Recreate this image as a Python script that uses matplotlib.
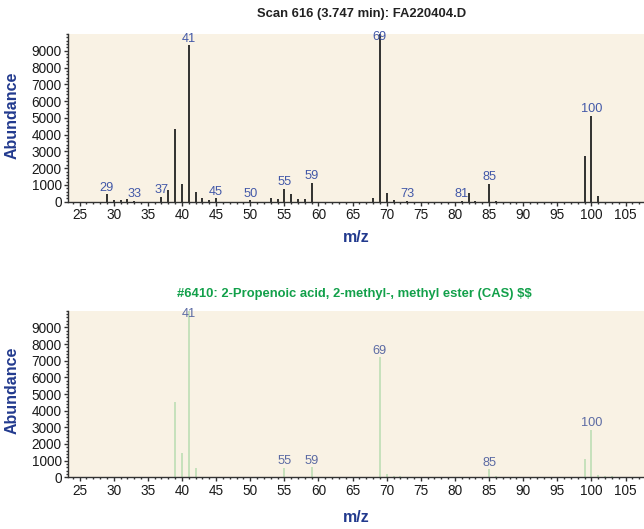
import matplotlib
matplotlib.use("Agg")
import matplotlib.pyplot as plt
from matplotlib.ticker import MultipleLocator

plt.rcParams["font.family"] = ["Liberation Sans", "DejaVu Sans"]

# Measured scan spectrum (m/z, abundance)
scan_mz = [29, 30, 31, 32, 33, 37, 38, 39, 40, 41, 42, 43, 44, 45, 50,
           53, 54, 55, 56, 57, 58, 59, 68, 69, 70, 71, 73, 81, 82, 83,
           85, 86, 99, 100, 101]
scan_abund = [440, 100, 120, 140, 60, 300, 700, 4360, 1070, 9320, 560, 210, 100, 210, 80,
              250, 160, 770, 460, 150, 150, 1120, 220, 9990, 530, 110, 70, 60, 520, 70,
              1070, 60, 2720, 5140, 340]
scan_labels = [29, 33, 37, 41, 45, 50, 55, 59, 69, 73, 81, 85, 100]

# Library reference spectrum
lib_mz = [39, 40, 41, 42, 55, 59, 69, 70, 71, 72, 85, 86, 99, 100, 101, 102, 103]
lib_abund = [4500, 1460, 10000, 540, 580, 600, 7200, 200, 50, 50, 480, 50, 1100, 2860, 140, 50, 50]
lib_labels = [41, 55, 59, 69, 85, 100]

scan_title = "Scan 616 (3.747 min): FA220404.D"
lib_title = "#6410: 2-Propenoic acid, 2-methyl-, methyl ester (CAS) \\$\\$"

W, H = 644, 529
fig = plt.figure(figsize=(W / 100, H / 100), dpi=100)

bg = "#f9f2e4"
axis_blue = "#223a8e"


def setup(ax, mz, ab, labels, bar_color, label_color, lw):
    ax.set_facecolor(bg)
    ax.vlines(mz, 0, ab, colors=bar_color, lw=lw, zorder=2)
    ax.set_xlim(23.3, 107.7)
    ax.set_ylim(0, 10000)
    for s in ("top", "right"):
        ax.spines[s].set_visible(False)
    for s in ("left", "bottom"):
        ax.spines[s].set_color("#333333")
        ax.spines[s].set_linewidth(1.0)
    ax.xaxis.set_minor_locator(MultipleLocator(1))
    ax.yaxis.set_minor_locator(MultipleLocator(200))
    ax.set_xticks(range(25, 106, 5))
    ax.set_yticks(range(0, 9001, 1000))
    ax.tick_params(axis="both", which="major", direction="out", length=3,
                   width=1.0, color="#333333", labelsize=9.8, labelcolor="#1a1a1a", pad=1.5)
    ax.tick_params(axis="both", which="minor", direction="out", length=1.6,
                   width=1.0, color="#333333")
    lookup = dict(zip(mz, ab))
    for m in labels:
        y = min(lookup[m] + 40, 9450)
        ax.text(m, y, str(m), ha="center", va="bottom", fontsize=9.2,
                color=label_color, zorder=3)


ax1 = fig.add_axes([68 / W, (H - 201.7) / H, 576 / W, 167.7 / H])
setup(ax1, scan_mz, scan_abund, scan_labels, "#222222", "#4258a8", 1.3)

ax2 = fig.add_axes([68 / W, (H - 477.3) / H, 576 / W, 166.6 / H])
setup(ax2, lib_mz, lib_abund, lib_labels, "#b8dcb0", "#5b6aa3", 1.1)

fig.text(362 / W, 1 - 14 / H, scan_title, ha="center", va="center",
         fontsize=9.4, fontweight="bold", color="#222222")
fig.text(354 / W, 1 - 294 / H, lib_title, ha="center", va="center",
         fontsize=9.4, fontweight="bold", color="#12a04a")

for yc in (115, 390):
    fig.text(12 / W, 1 - yc / H, "Abundance", rotation=90, ha="center",
             va="center", fontsize=11.5, fontweight="bold", color=axis_blue)
for yc in (237, 517):
    fig.text(356 / W, 1 - yc / H, "m/z", ha="center", va="center",
             fontsize=11.5, fontweight="bold", color=axis_blue)

fig.savefig("out.png", dpi=100, facecolor="white")
